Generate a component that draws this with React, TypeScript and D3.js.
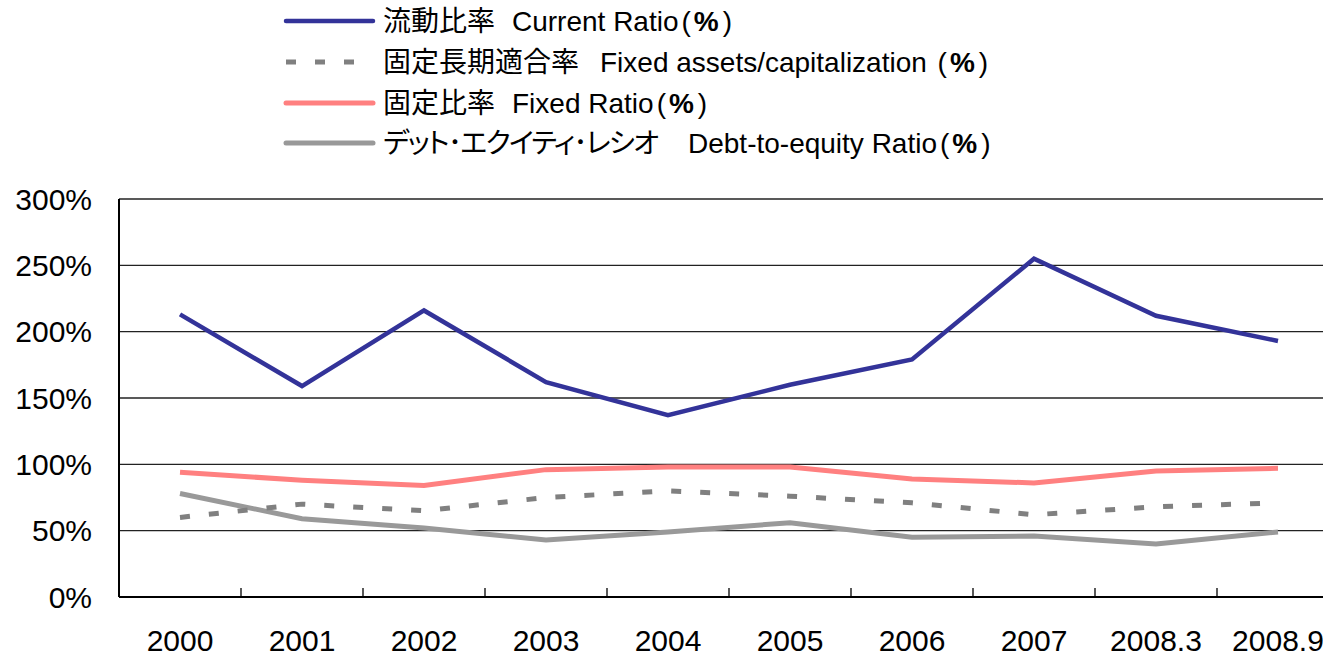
import React, { useEffect, useRef } from 'react';
import * as d3 from 'd3';

// category labels along the x axis
const periods = ['2000', '2001', '2002', '2003', '2004', '2005', '2006', '2007', '2008.3', '2008.9'];

// series values (%)
const currentRatio = [213, 159, 216, 162, 137, 160, 179, 255, 212, 193];
const fixedLongTermRatio = [60, 70, 65, 75, 80, 76, 71, 62, 68, 71];
const fixedRatio = [94, 88, 84, 96, 98, 98, 89, 86, 95, 97];
const debtEquityRatio = [78, 59, 52, 43, 49, 56, 45, 46, 40, 49];

const yTicks = [0, 50, 100, 150, 200, 250, 300];

// legend labels: Japanese part and English part
const legendJa = ['流動比率', '固定長期適合率', '固定比率', 'デット･エクイティ･レシオ'];
const legendEn = ['Current Ratio', 'Fixed assets/capitalization ', 'Fixed Ratio', 'Debt-to-equity Ratio'];

const LATIN = "'Liberation Sans', Arial, sans-serif";
const CJK = "'Noto Sans CJK JP', sans-serif";

const App = () => {
  const svgRef = useRef<SVGSVGElement>(null);

  useEffect(() => {
    const width = 1323;
    const height = 656;
    const plot = { left: 119, right: 1339, top: 199, bottom: 597 };

    const svg = d3.select(svgRef.current);
    svg.selectAll('*').remove();
    svg.attr('width', width).attr('height', height);

    const x = d3.scaleBand<string>()
      .domain(periods)
      .range([plot.left, plot.right])
      .padding(0);

    const y = d3.scaleLinear()
      .domain([0, 300])
      .range([plot.bottom, plot.top]);

    const cx = (d: string) => (x(d) ?? 0) + x.bandwidth() / 2;

    // gridlines
    svg.append('g')
      .selectAll('line')
      .data(yTicks.filter(t => t > 0))
      .enter()
      .append('line')
      .attr('x1', plot.left)
      .attr('x2', plot.right)
      .attr('y1', d => y(d))
      .attr('y2', d => y(d))
      .attr('stroke', '#222')
      .attr('stroke-width', 1.3);

    // y axis labels
    svg.append('g')
      .selectAll('text')
      .data(yTicks)
      .enter()
      .append('text')
      .attr('x', 92)
      .attr('y', d => y(d))
      .attr('dy', '0.36em')
      .attr('text-anchor', 'end')
      .style('font-family', LATIN)
      .style('font-size', '30px')
      .attr('fill', '#000')
      .text(d => `${d}%`);

    // x axis ticks (between categories, pointing up)
    svg.append('g')
      .selectAll('line')
      .data(periods.slice(1))
      .enter()
      .append('line')
      .attr('x1', d => x(d) ?? 0)
      .attr('x2', d => x(d) ?? 0)
      .attr('y1', plot.bottom)
      .attr('y2', plot.bottom - 9)
      .attr('stroke', '#000')
      .attr('stroke-width', 1.3);

    // x axis labels
    svg.append('g')
      .selectAll('text')
      .data(periods)
      .enter()
      .append('text')
      .attr('x', d => cx(d))
      .attr('y', 651)
      .attr('text-anchor', 'middle')
      .style('font-family', LATIN)
      .style('font-size', '30px')
      .attr('fill', '#000')
      .text(d => d);

    // axes lines
    svg.append('line')
      .attr('x1', plot.left).attr('x2', plot.left)
      .attr('y1', plot.top).attr('y2', plot.bottom)
      .attr('stroke', '#000').attr('stroke-width', 2);
    svg.append('line')
      .attr('x1', plot.left).attr('x2', plot.right)
      .attr('y1', plot.bottom).attr('y2', plot.bottom)
      .attr('stroke', '#000').attr('stroke-width', 2);

    const series = [
      { values: debtEquityRatio, color: '#999999', width: 5, dash: null },
      { values: fixedLongTermRatio, color: '#808080', width: 5, dash: '10,19' },
      { values: fixedRatio, color: '#FF8080', width: 5, dash: null },
      { values: currentRatio, color: '#333399', width: 4.5, dash: null },
    ];

    const line = d3.line<number>()
      .x((_, i) => cx(periods[i]))
      .y(d => y(d));

    series.forEach(s => {
      svg.append('path')
        .datum(s.values)
        .attr('d', line)
        .attr('fill', 'none')
        .attr('stroke', s.color)
        .attr('stroke-width', s.width)
        .attr('stroke-dasharray', s.dash);
    });

    // legend
    const legendItems = [
      { color: '#333399', width: 4.5, dash: null },
      { color: '#808080', width: 5, dash: '10,19' },
      { color: '#FF8080', width: 5, dash: null },
      { color: '#999999', width: 5, dash: null },
    ];
    const legendY = [21, 62, 103, 143];
    const enX = [512, 600, 512, 688];

    const legend = svg.append('g');
    legendItems.forEach((item, i) => {
      legend.append('line')
        .attr('x1', 286).attr('x2', 373)
        .attr('y1', legendY[i]).attr('y2', legendY[i])
        .attr('stroke', item.color)
        .attr('stroke-width', item.width)
        .attr('stroke-dasharray', item.dash)
        .attr('stroke-linecap', item.dash ? 'butt' : 'round');

      const ja = legend.append('text')
        .attr('x', 383)
        .attr('y', legendY[i] + 10)
        .style('font-family', CJK)
        .style('font-size', '28px')
        .style('font-feature-settings', '"palt"')
        .attr('fill', '#000')
        .text(legendJa[i]);
      if (i === 3) ja.attr('textLength', 276).attr('lengthAdjust', 'spacing');

      const t = legend.append('text')
        .attr('x', enX[i])
        .attr('y', legendY[i] + 10)
        .style('font-family', LATIN)
        .style('font-size', '28px')
        .attr('fill', '#000')
        .attr('xml:space', 'preserve');
      t.append('tspan').text(legendEn[i]);
      t.append('tspan').attr('dx', 3).text('(');
      t.append('tspan').attr('dx', 3).style('font-weight', 'bold').text('%');
      t.append('tspan').attr('dx', 4).text(')');
    });
  }, []);

  return (
    <div style={{ position: 'absolute', left: 0, top: 0, width: 1323, height: 656, overflow: 'hidden' }}>
      <svg ref={svgRef} style={{ display: 'block' }}></svg>
    </div>
  );
};

export default App;
